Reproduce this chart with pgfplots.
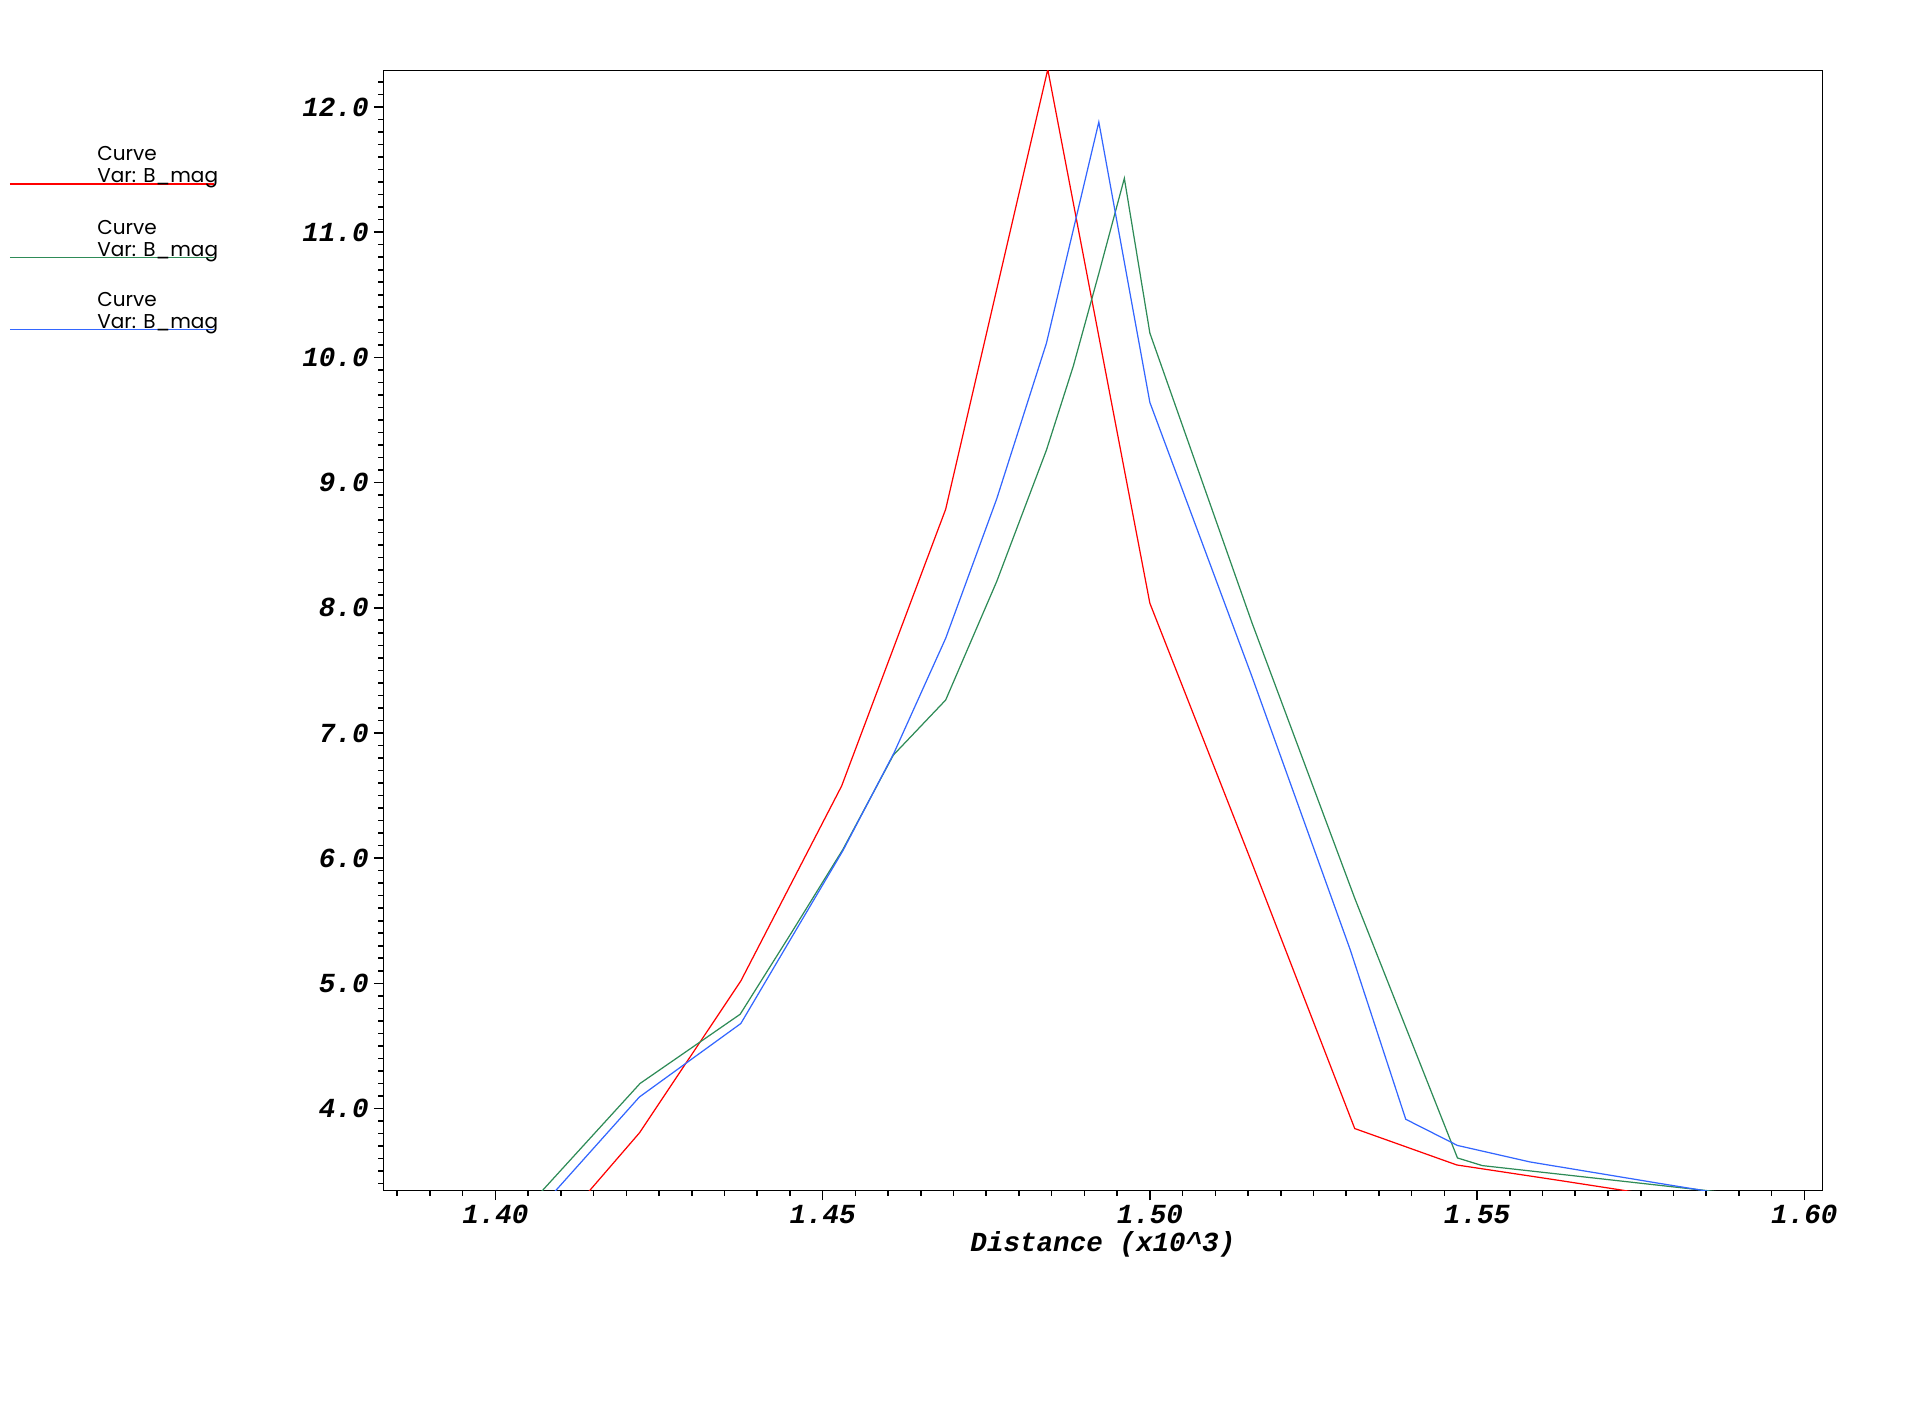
\documentclass[border=0pt]{standalone}
\usepackage{fontspec}
\setmainfont{Poppins}
\setmonofont{Liberation Mono}
\usepackage{pgfplots}
\pgfplotsset{compat=1.18}
\definecolor{cred}{RGB}{255,0,0}
\definecolor{cgreen}{RGB}{46,139,87}
\definecolor{cblue}{RGB}{51,102,255}
\newcommand{\tickfont}{\fontsize{7.85}{9}\ttfamily\bfseries\itshape}
\begin{document}
\begin{tikzpicture}
\useasboundingbox (0,0) rectangle (192mm,140.2mm);
\begin{axis}[
  at={(38.33mm,21.15mm)}, anchor=south west,
  scale only axis, width=143.92mm, height=112.02mm,
  xmin=1.38287, xmax=1.60278, ymin=3.345, ymax=12.293,
  axis line style={line width=0.45pt},
  xtick={1.40,1.45,1.50,1.55,1.60},
  minor xtick={1.385,1.390,...,1.6001},
  ytick={4,5,...,12},
  minor ytick={3.4,3.5,...,12.25},
  tick align=outside, xtick pos=bottom, ytick pos=left,
  major tick length=0.95mm, minor tick length=0.5mm,
  every tick/.style={line width=0.45pt, black},
  /pgf/number format/assume math mode=true,
  xticklabel={\pgfmathprintnumber[fixed,fixed zerofill,precision=2]{\tick}},
  yticklabel={\pgfmathprintnumber[fixed,fixed zerofill,precision=1]{\tick}},
  xticklabel style={font=\tickfont, anchor=base, inner sep=0pt, yshift=-2.35mm},
  yticklabel style={font=\tickfont, anchor=east, inner sep=0pt, xshift=-0.45mm},
  xlabel={Distance (x10\textasciicircum 3)},
  xlabel style={font=\tickfont, at={(axis description cs:0.5,-0.05445)}, anchor=base, inner sep=0pt},
]
\addplot[cred, line width=0.35pt] coordinates {
(1.4064,2.86) (1.4220,3.805) (1.4375,5.019) (1.4529,6.576) (1.4688,8.787)
(1.4844,12.30) (1.5000,8.036) (1.5156,5.96) (1.5313,3.840) (1.5469,3.549)
(1.5625,3.426) (1.5781,3.30)
};
\addplot[cgreen, line width=0.35pt] coordinates {
(1.4064,3.30) (1.4221,4.200) (1.4374,4.753) (1.4453,5.41) (1.4531,6.07)
(1.4608,6.823) (1.4688,7.263) (1.4766,8.21) (1.4842,9.26) (1.4883,9.93)
(1.4922,10.67) (1.4961,11.43) (1.5000,10.194) (1.5156,7.88) (1.5313,5.68)
(1.5470,3.605) (1.5508,3.544) (1.5625,3.476) (1.5781,3.385) (1.5938,3.294)
};
\addplot[cblue, line width=0.35pt] coordinates {
(1.4064,3.18) (1.4220,4.092) (1.4375,4.679) (1.4453,5.37) (1.4531,6.06)
(1.4609,6.84) (1.4688,7.756) (1.4766,8.87) (1.4842,10.114) (1.4922,11.88)
(1.5000,9.64) (1.5156,7.45) (1.5306,5.27) (1.5391,3.914) (1.5470,3.705)
(1.5581,3.573) (1.5781,3.40) (1.5938,3.267)
};
\end{axis}
% legend
\begin{scope}[every node/.style={anchor=base west, inner sep=0pt, font=\fontsize{5.7}{6}\selectfont}]
\foreach \dy/\col in {0/cred, 7.34/cgreen, 14.57/cblue}{
  \draw[\col, line width=0.35pt] (0.98mm,121.8mm-\dy mm) -- (21.4mm,121.8mm-\dy mm);
  \node at (9.67mm,124.13mm-\dy mm) {Curve};
  \node at (9.67mm,121.93mm-\dy mm) {Var: B\_mag};
}
\end{scope}
\end{tikzpicture}
\end{document}
